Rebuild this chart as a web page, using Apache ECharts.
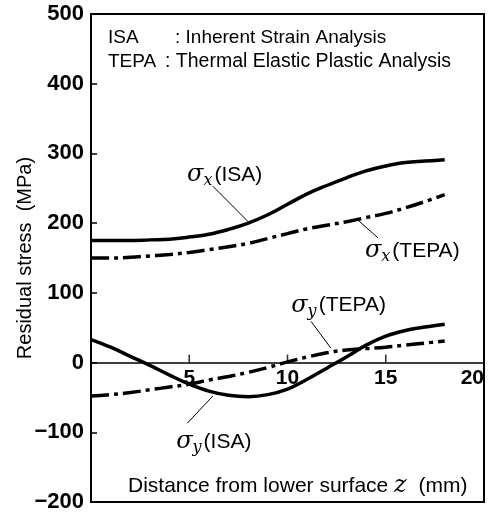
<!DOCTYPE html>
<html>
<head>
<meta charset="utf-8">
<script src="https://cdn.jsdelivr.net/npm/echarts@6/dist/echarts.min.js"></script>
<style>
  html, body { margin: 0; padding: 0; background: #fff; }
  #chart { width: 490px; height: 518px; }
</style>
</head>
<body>
<div id="chart"></div>
<script>
// distance from lower surface z (mm)
const zPoints = [0, 1, 2, 3, 4, 5, 6, 7, 8, 9, 10, 11, 12, 13, 14, 15, 16, 17, 18];
// residual stress (MPa)
const sxIsa  = [175, 175, 175, 176, 177, 180, 184, 191, 200, 212, 227, 242, 254, 265, 275, 282, 287, 289, 291];
const sxTepa = [150, 150, 151, 153, 155, 158, 162, 166, 171, 178, 185, 192, 197, 202, 208, 214, 222, 231, 241];
const syIsa  = [33, 22, 9, -4, -18, -31, -41, -47, -49, -46, -38, -24, -8, 8, 25, 38, 46, 51, 55];
const syTepa = [-48, -46, -43, -39, -35, -31, -25, -20, -14, -7, 1, 8, 14, 18, 20, 22, 25, 28, 31];

const xTicks = [0, 5, 10, 15, 20];
const yTicks = [-200, -100, 0, 100, 200, 300, 400, 500];

// curve labels: subscript, name, label anchor and leader line in data coords
const curveLabels = [
  { sub: 'x', name: 'ISA',  at: [6.8, 269],   leader: [[6.2, 253], [8.0, 202]] },
  { sub: 'x', name: 'TEPA', at: [16.35, 160], leader: [[13.6, 204], [14.6, 179]] },
  { sub: 'y', name: 'ISA',  at: [6.25, -114], leader: [[4.9, -87], [6.2, -48]] },
  { sub: 'y', name: 'TEPA', at: [12.6, 82],   leader: [[11.2, 59], [12.2, 21]] }
];

const pairs = (ys) => zPoints.map((z, i) => [z, ys[i]]);

const richLabel = {
  s: { fontFamily: 'DejaVu Serif', fontStyle: 'italic', fontSize: 24, color: '#000' },
  b: { fontFamily: 'DejaVu Serif', fontStyle: 'italic', fontSize: 16, color: '#000', padding: [12, 2, 0, 0] },
  t: { fontFamily: 'Liberation Sans', fontSize: 21, color: '#000' }
};

function curve(ys, dashed, lbl) {
  return {
    type: 'line',
    data: pairs(ys),
    smooth: 0.4,
    symbol: 'none',
    silent: true,
    lineStyle: { color: '#000', width: 3.5, type: dashed ? [18, 5, 4, 5] : 'solid' },
    markLine: {
      silent: true,
      symbol: ['none', 'none'],
      label: { show: false },
      lineStyle: { color: '#000', width: 1, type: 'solid' },
      data: [[{ coord: lbl.leader[0] }, { coord: lbl.leader[1] }]]
    },
    markPoint: {
      silent: true,
      symbol: 'circle',
      symbolSize: 0,
      label: {
        show: true,
        position: 'inside',
        formatter: '{s|σ}{b|' + lbl.sub + '}{t|(' + lbl.name + ')}',
        rich: richLabel
      },
      data: [{ coord: lbl.at }]
    }
  };
}

// upward tick marks on the zero line, placed at the x ticks
const zeroLineTicks = {
  type: 'scatter',
  silent: true,
  symbol: 'rect',
  symbolSize: [1.6, 8],
  symbolOffset: [0, -4],
  itemStyle: { color: '#000' },
  data: xTicks.slice(1, -1).map((t) => [t, 0])
};

const chart = echarts.init(document.getElementById('chart'));
chart.setOption({
  animation: false,
  grid: {
    left: 91, right: 6, top: 14, bottom: 16,
    outerBoundsMode: 'none',
    show: true, borderColor: '#000', borderWidth: 2
  },
  xAxis: {
    type: 'value',
    min: xTicks[0],
    max: xTicks[xTicks.length - 1],
    interval: 5,
    offset: -139.4,
    axisLine: { onZero: false, lineStyle: { color: '#000', width: 1.5 } },
    axisTick: { show: false },
    splitLine: { show: false },
    axisLabel: {
      margin: 5,
      color: '#000',
      fontFamily: 'Liberation Sans',
      fontWeight: 'bold',
      fontSize: 21,
      alignMaxLabel: 'right',
      formatter: (v) => (v === 0 ? '' : String(v))
    }
  },
  yAxis: {
    type: 'value',
    min: yTicks[0],
    max: yTicks[yTicks.length - 1],
    interval: 100,
    name: 'Residual stress  (MPa)',
    nameLocation: 'middle',
    nameGap: 56,
    nameMoveOverlap: false,
    nameTextStyle: { fontFamily: 'Liberation Sans', fontSize: 20, color: '#000' },
    axisLine: { show: true, lineStyle: { color: '#000', width: 2 } },
    axisTick: { inside: true, length: 6, lineStyle: { color: '#000', width: 1.5 } },
    splitLine: { show: false },
    axisLabel: {
      margin: 7,
      color: '#000',
      fontFamily: 'Liberation Sans',
      fontWeight: 'bold',
      fontSize: 22,
      formatter: (v) => String(v).replace('-', '\u2212')
    }
  },
  graphic: [
    { type: 'text', left: 108, top: 28, style: { text: 'ISA', font: '19px "Liberation Sans"', fill: '#000' } },
    { type: 'text', left: 175, top: 28, style: { text: ': Inherent Strain Analysis', font: '19px "Liberation Sans"', fill: '#000' } },
    { type: 'text', left: 108, top: 52, style: { text: 'TEPA', font: '19px "Liberation Sans"', fill: '#000' } },
    { type: 'text', left: 165, top: 52, style: { text: ': Thermal Elastic Plastic Analysis', font: '19.5px "Liberation Sans"', fill: '#000' } },
    {
      type: 'text', left: 128, top: 474,
      style: {
        text: '{a|Distance from lower surface }{z|z}{a|  (mm)}',
        rich: {
          a: { fontFamily: 'Liberation Sans', fontSize: 21, fill: '#000', color: '#000' },
          z: { fontFamily: 'DejaVu Serif', fontStyle: 'italic', fontSize: 24, fill: '#000', color: '#000' }
        }
      }
    }
  ],
  series: [
    curve(sxIsa, false, curveLabels[0]),
    curve(sxTepa, true, curveLabels[1]),
    curve(syIsa, false, curveLabels[2]),
    curve(syTepa, true, curveLabels[3]),
    zeroLineTicks
  ]
});
</script>
</body>
</html>
